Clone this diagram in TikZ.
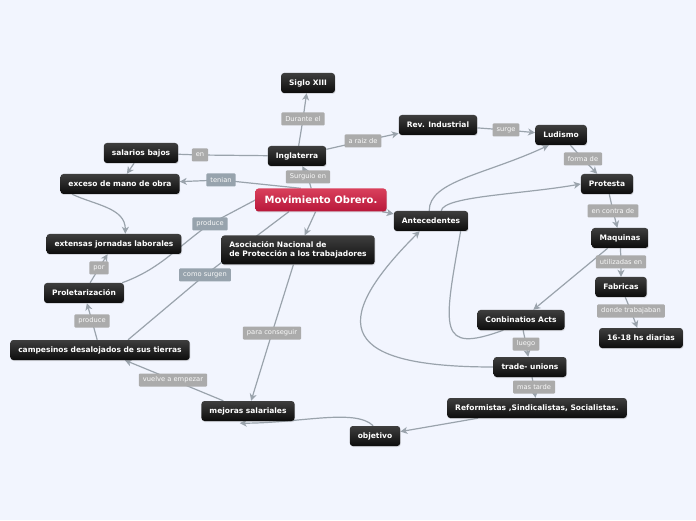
\documentclass[tikz,border=0pt]{standalone}
\usepackage{fontspec}
\setmainfont{DejaVu Sans}
\usetikzlibrary{arrows.meta,shadows}
\definecolor{mobg}   {HTML}{F2F5FE}
\definecolor{motop}  {HTML}{3E3E3E}
\definecolor{mobot}  {HTML}{0C0C0C}
\definecolor{moedge} {HTML}{9AA3AC}
\definecolor{molbl}  {HTML}{ABABAB}
\definecolor{moslate}{HTML}{97A3AD}
\definecolor{mored}  {HTML}{B8173A}
\definecolor{moredhi}{HTML}{D9405C}
\pgfdeclarelayer{moback}
\pgfdeclarelayer{molines}
\pgfsetlayers{moback,molines,main}
\tikzset{
  topic/.style={rounded corners=3pt, top color=motop, bottom color=mobot,
    text=white, font=\fontsize{7.5}{9.5}\selectfont\bfseries,
    inner xsep=8pt, inner ysep=2pt, minimum height=20pt,
    drop shadow={opacity=0.25, shadow xshift=0.6pt, shadow yshift=-1pt}},
  maintopic/.style={topic, top color=moredhi, bottom color=mored,
    font=\fontsize{10}{12}\selectfont\bfseries, minimum height=23pt,
    minimum width=131pt},
  lbl/.style={fill=molbl, text=white!93!molbl, rounded corners=1pt,
    font=\fontsize{6.7}{8}\selectfont, inner xsep=4pt, inner ysep=0pt,
    minimum height=13pt},
  slbl/.style={lbl, fill=moslate},
  link/.style={draw=moedge, line width=1.2pt,
    -{Stealth[length=7pt, width=7pt, inset=2pt]}},
  plain/.style={draw=moedge, line width=1.2pt}
}

\begin{document}
\begin{tikzpicture}[x=1pt, y=1pt]
  \begin{pgfonlayer}{moback}
    \fill[mobg] (0,0) rectangle (696,520);
  \end{pgfonlayer}
  \useasboundingbox (0,0) rectangle (696,520);

  \node[topic] (siglo)  at (308,437) {Siglo XIII};
  \node[topic] (ingl)   at (297,364) {Inglaterra};
  \node[topic] (salar)  at (141,367) {salarios bajos};
  \node[topic] (exceso) at (120,336) {exceso de mano de obra};
  \node[maintopic] (mov) at (321,320) {Movimiento Obrero.};
  \node[topic] (rev)    at (438,395) {Rev. Industrial};
  \node[topic] (ludis)  at (561,385) {Ludismo};
  \node[topic] (prot)   at (607,336) {Protesta};
  \node[topic] (ante)   at (431,299) {Antecedentes};
  \node[topic] (jorn)   at (114,276) {extensas jornadas laborales};
  \node[topic, align=left, minimum height=29pt] (asoc) at (298,270)
    {Asociación Nacional de\\de Protección a los trabajadores};
  \node[topic] (maq)    at (620,282) {Maquinas};
  \node[topic] (fabr)   at (621,233) {Fabricas};
  \node[topic] (prole)  at (84,227)  {Proletarización};
  \node[topic] (conb)   at (521,200) {Conbinatios Acts};
  \node[topic] (horas)  at (641,182) {16-18 hs diarias};
  \node[topic] (campe)  at (100,170) {campesinos desalojados de sus tierras};
  \node[topic] (trade)  at (530,153) {trade- unions};
  \node[topic] (reform) at (537,112) {Reformistas ,Sindicalistas, Socialistas.};
  \node[topic] (mejor)  at (248,109) {mejoras salariales};
  \node[topic] (objet)  at (375,84)  {objetivo};
  \coordinate (mejorTip) at ([yshift=-2pt]mejor.231);

  \node[lbl]  (lDurante) at (303,401) {Durante el};
  \node[lbl]  (lEn)      at (200,365) {en};
  \node[lbl]  (lRaiz)    at (363,379) {a raiz de};
  \node[lbl]  (lSurge)   at (506,390) {surge};
  \node[slbl] (lTenian)  at (221,340) {tenian};
  \node[lbl]  (lSurgio)  at (308,343) {Surguio en};
  \node[lbl]  (lForma)   at (583,361) {forma de};
  \node[lbl]  (lContra)  at (613,309) {en contra de};
  \node[slbl] (lProdA)   at (210,296) {produce};
  \node[slbl] (lComo)    at (205,245) {como surgen};
  \node[lbl]  (lUtil)    at (621,258) {utilizadas en};
  \node[lbl]  (lPor)     at (99,252)  {por};
  \node[lbl]  (lDonde)   at (631,209) {donde trabajaban};
  \node[lbl]  (lProdB)   at (92,199)  {produce};
  \node[lbl]  (lPara)    at (272,187) {para conseguir};
  \node[lbl]  (lLuego)   at (526,176) {luego};
  \node[lbl]  (lMas)     at (534,133) {mas tarde};
  \node[lbl]  (lVuelve)  at (173,140) {vuelve a empezar};

  \begin{pgfonlayer}{molines}
    \draw[link]  (ingl) -- (lDurante.center) -- (siglo);
    \draw[plain] (ingl) -- (lEn.center) -- (salar);
    \draw[link]  (ingl) -- (lRaiz.center) -- (rev);
    \draw[link]  (rev) -- (lSurge.center) -- (ludis);
    \draw[link]  (ludis) -- (lForma.center) -- (prot);
    \draw[link]  (prot) -- (lContra.center) -- (maq);
    \draw[link]  (maq) -- (lUtil.center) -- (fabr);
    \draw[link]  (fabr) -- (lDonde.center) -- (horas);
    \draw[link]  (maq) -- (conb);
    \draw[link]  (conb) -- (lLuego.center) -- (trade);
    \draw[link]  (trade) -- (lMas.center) -- (reform);
    \draw[link]  (reform) -- (objet);
    \draw[link]  (objet.100) .. controls +(135:25) and +(0:60) .. (mejorTip);
    \draw[link]  (mejor) -- (lVuelve.center) -- (campe);
    \draw[link]  (campe) -- (lProdB.center) -- (prole);
    \draw[link]  (prole) -- (lPor.center) -- (jorn);
    \draw[link]  (salar) -- (exceso);
    \draw[link]  (exceso.192) to[out=-25, in=90] (jorn.42);
    \draw[link]  (mov.150) -- (lTenian.center) -- (exceso);
    \draw[link]  (mov.130) -- (lSurgio.center) -- (ingl);
    \draw[link]  (mov) -- (asoc);
    \draw[link]  (mov) -- (ante);
    \draw[link]  (asoc) -- (lPara.center) -- (mejor);
    \draw[plain] (prole.15) to[out=20, in=215] (lProdA.center) -- (mov.west);
    \draw[plain] (campe.20) -- (lComo.center) -- (mov.200);
    \draw[link]  (ante.100) .. controls +(90:30) and +(205:70) .. (ludis.220);
    \draw[link]  (ante.45) .. controls +(80:15) and +(190:60) .. (prot.west);
    \draw[plain] (conb.210) .. controls +(200:70) and +(-100:100) .. (ante.-19);
    \draw[link]  (trade.west) .. controls +(180:150) and +(225:135) .. (ante.222);
  \end{pgfonlayer}
\end{tikzpicture}
\end{document}
